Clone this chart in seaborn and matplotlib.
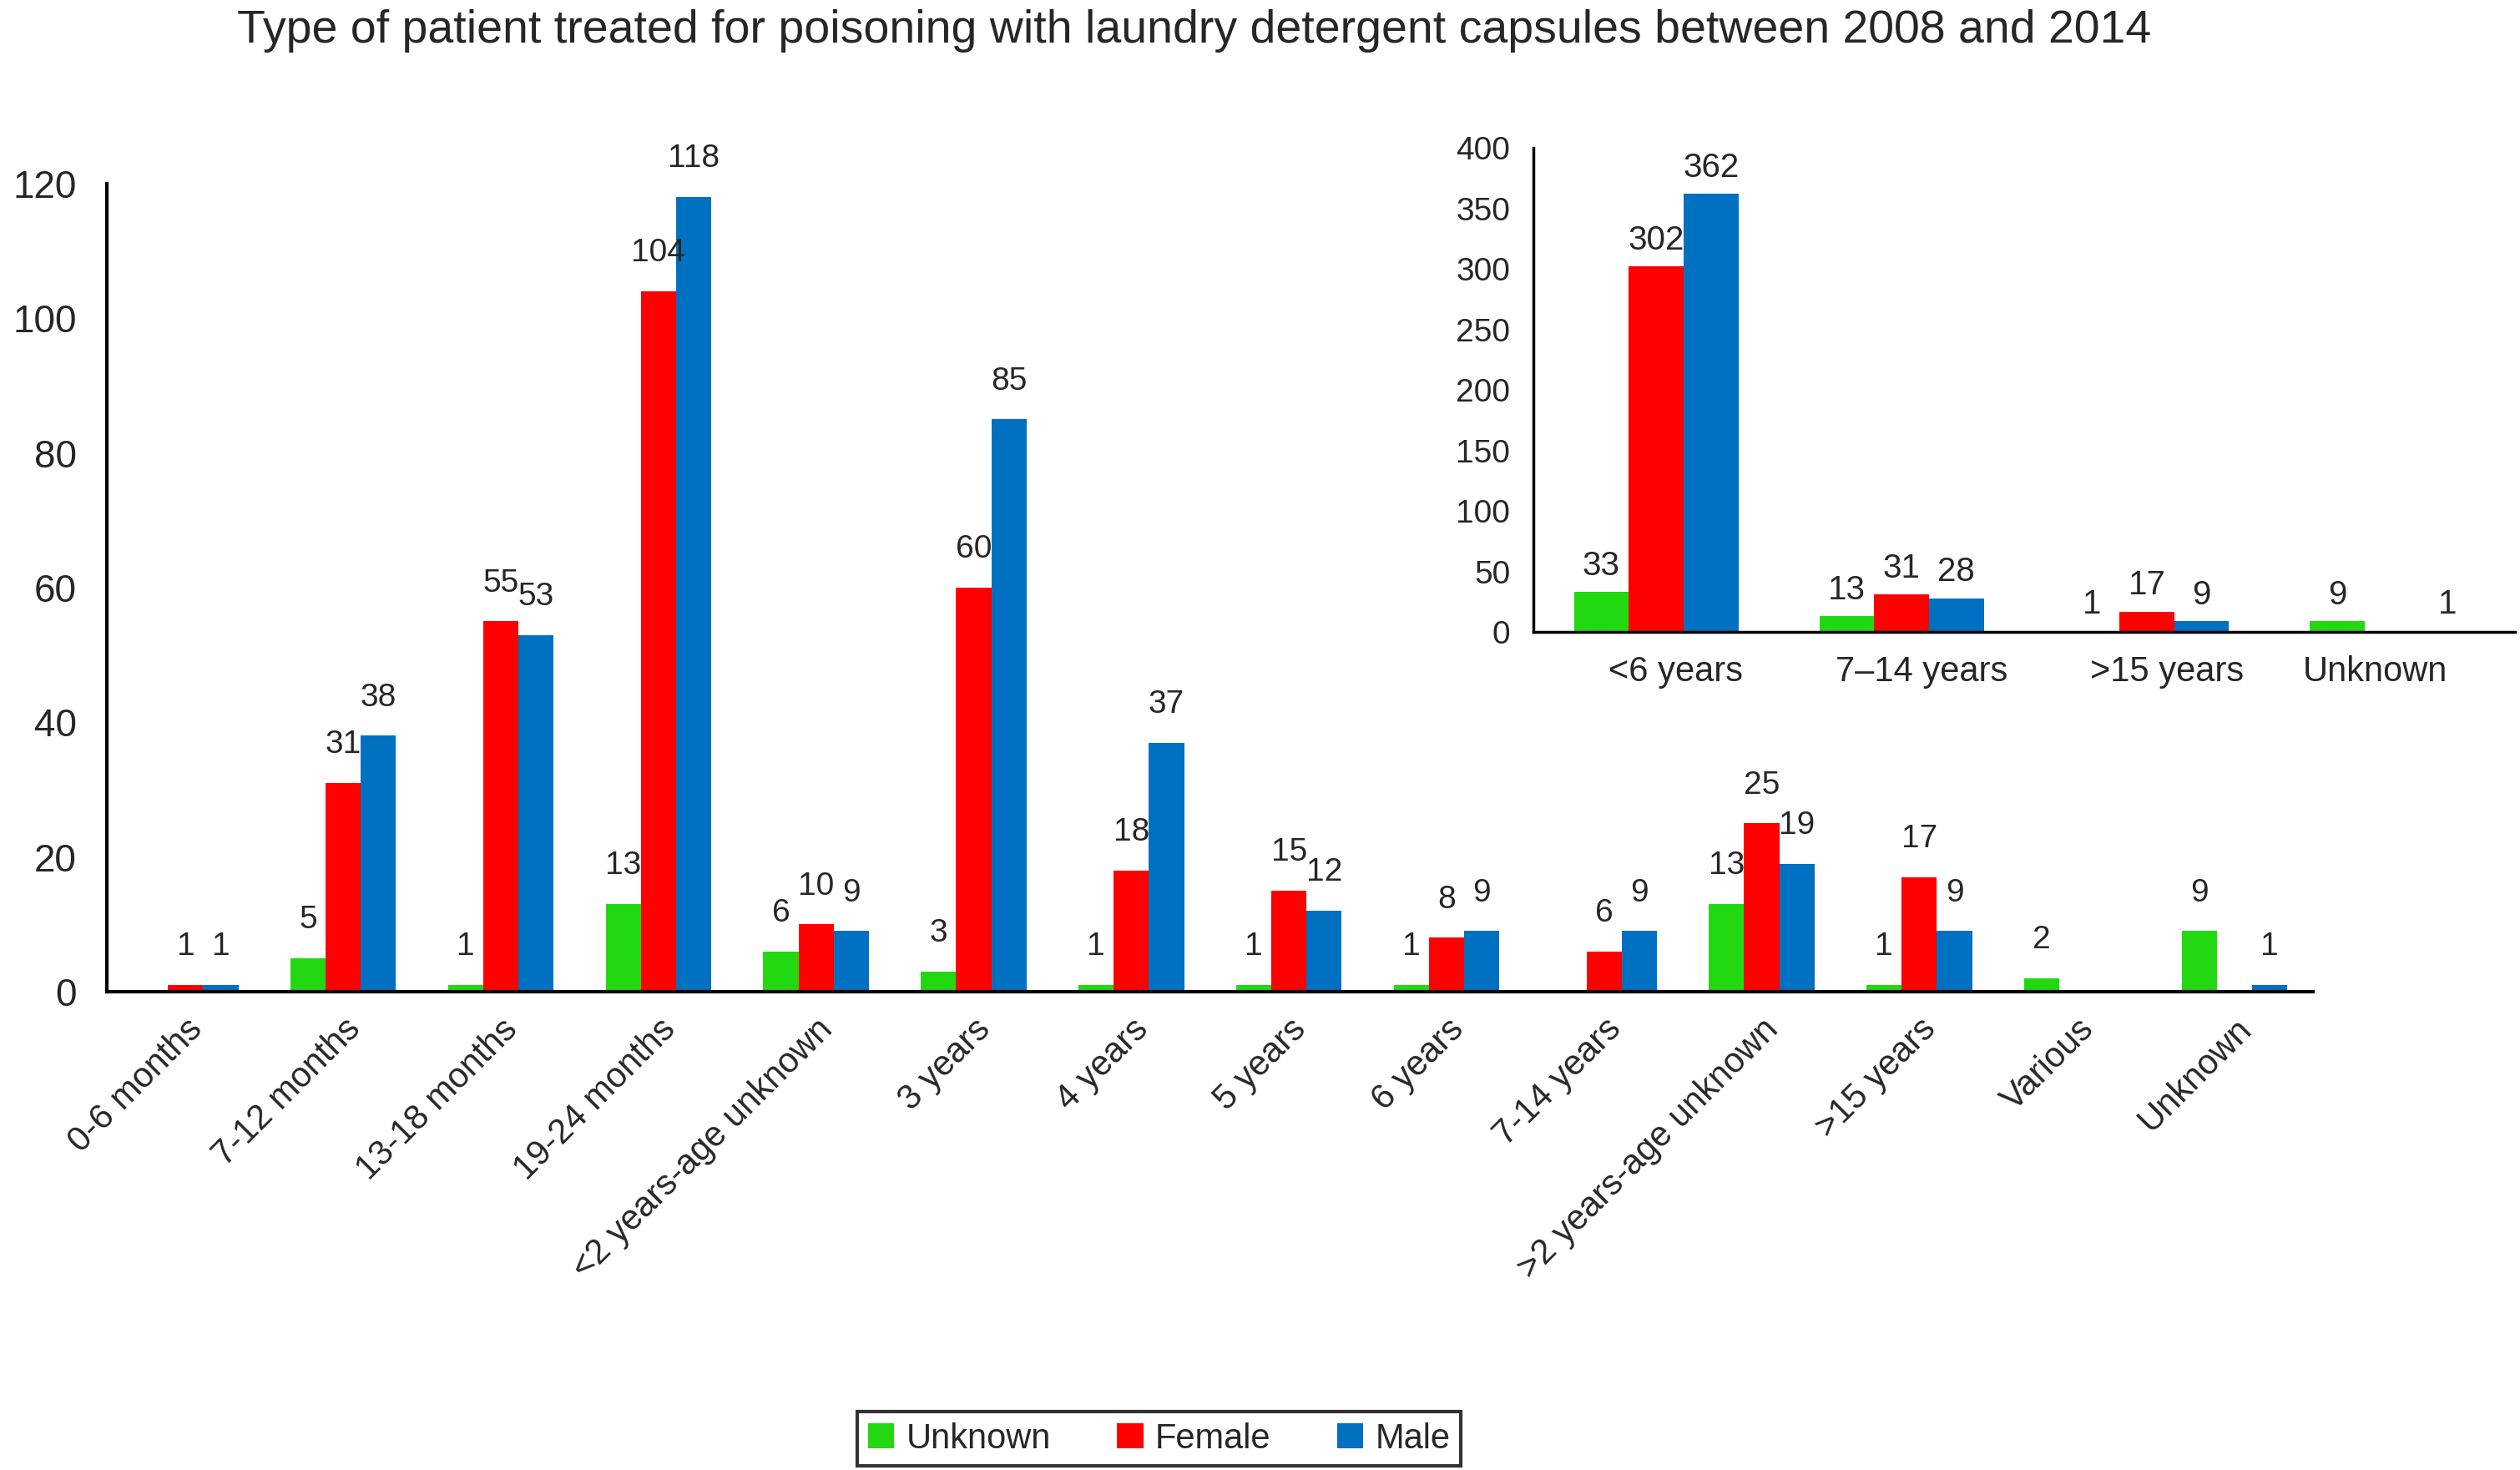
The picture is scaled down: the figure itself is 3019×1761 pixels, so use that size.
import pandas as pd
import matplotlib
matplotlib.use("Agg")
import matplotlib.pyplot as plt
import matplotlib.transforms as mtransforms
import seaborn as sns

sns.set_style("white")
plt.rcParams["font.family"] = ["Liberation Sans", "DejaVu Sans"]

# main chart data
ages = ["0-6 months", "7-12 months", "13-18 months", "19-24 months",
        "<2 years-age unknown", "3 years", "4 years", "5 years", "6 years",
        "7-14 years", ">2 years-age unknown", ">15 years", "Various", "Unknown"]
unknown = [0, 5, 1, 13, 6, 3, 1, 1, 1, 0, 13, 1, 2, 9]
female = [1, 31, 55, 104, 10, 60, 18, 15, 8, 6, 25, 17, 0, 0]
male = [1, 38, 53, 118, 9, 85, 37, 12, 9, 9, 19, 9, 0, 1]

# inset data
groups = ["<6 years", "7\u201314 years", ">15 years", "Unknown"]
unknown_g = [33, 13, 1, 9]
female_g = [302, 31, 17, 0]
male_g = [362, 28, 9, 1]

sexes = ["Unknown", "Female", "Male"]
colors = ["#22D911", "#FF0000", "#0070C0"]


def to_long(cats, u, f, m):
    rows = []
    for s, vals in zip(sexes, [u, f, m]):
        for c, v in zip(cats, vals):
            rows.append({"cat": c, "sex": s, "count": v})
    return pd.DataFrame(rows)


df_main = to_long(ages, unknown, female, male)
df_ins = to_long(groups, unknown_g, female_g, male_g)

fig = plt.figure(figsize=(30.19, 17.61), dpi=100)
ax = fig.add_axes([0.0424, 0.3254, 0.8756, 0.5496])

sns.barplot(data=df_main, x="cat", y="count", hue="sex", order=ages, hue_order=sexes,
            palette=colors, saturation=1, width=0.67, errorbar=None, ax=ax,
            linewidth=0, edgecolor="none")

for cont in ax.containers:
    labs = [f"{v:g}" if v > 0 else "" for v in cont.datavalues]
    ax.bar_label(cont, labels=labs, padding=20, fontsize=28)

ax.set_xlim(-0.5, len(ages) - 0.5)
ax.set_ylim(0, 120)
ax.set_yticks(range(0, 121, 20))
ax.set_xlabel("")
ax.set_ylabel("")
ax.set_xticks(range(len(ages)))
ax.set_xticklabels(ages, rotation=45, ha="right", rotation_mode="anchor", fontsize=30)
ax.set_xticks([i - 0.5 for i in range(len(ages) + 1)], minor=True)
ax.tick_params(axis="x", which="major", length=0, pad=18)
ax.tick_params(axis="x", which="minor", length=16, width=3, direction="out", color="black")
ax.tick_params(axis="y", length=16, width=3, direction="out", labelsize=33, pad=10, color="black")
for side in ["top", "right"]:
    ax.spines[side].set_visible(False)
for side in ["left", "bottom"]:
    ax.spines[side].set_linewidth(3)
    ax.spines[side].set_color("black")

handles, labels = ax.get_legend_handles_labels()
ax.get_legend().remove()

# inset
axi = fig.add_axes([0.6085, 0.570, 0.3895, 0.3295])
sns.barplot(data=df_ins, x="cat", y="count", hue="sex", order=groups, hue_order=sexes,
            palette=colors, saturation=1, width=0.67, errorbar=None, ax=axi, legend=False,
            linewidth=0, edgecolor="none")
for cont in axi.containers:
    labs = [f"{v:g}" if v > 0 else "" for v in cont.datavalues]
    axi.bar_label(cont, labels=labs, padding=9, fontsize=29)

axi.set_xlim(-0.5, len(groups) - 0.5)
axi.set_ylim(0, 400)
axi.set_yticks(range(0, 401, 50))
axi.set_xlabel("")
axi.set_ylabel("")
axi.set_xticks(range(len(groups)))
axi.set_xticklabels([])
# category names sit a little off centre in the original
ishifts = [17, 17, 17, -15]
for i, (g, dx) in enumerate(zip(groups, ishifts)):
    tr = axi.get_xaxis_transform() + mtransforms.ScaledTranslation(dx / 72, -20 / 72, fig.dpi_scale_trans)
    axi.text(i, 0, g, transform=tr, ha="center", va="top", fontsize=30)
axi.set_xticks([i - 0.5 for i in range(len(groups) + 1)], minor=True)
axi.tick_params(axis="x", which="major", length=0)
axi.tick_params(axis="x", which="minor", length=14, width=2.5, direction="out", color="black")
axi.tick_params(axis="y", length=12, width=2.5, direction="out", labelsize=28, pad=8, color="black")
for side in ["top", "right"]:
    axi.spines[side].set_visible(False)
for side in ["left", "bottom"]:
    axi.spines[side].set_linewidth(2.5)
    axi.spines[side].set_color("black")

fig.text(0.474, 0.979, "Type of patient treated for poisoning with laundry detergent capsules between 2008 and 2014",
         ha="center", va="center", fontsize=40)

leg = fig.legend(handles, labels, loc="lower center", bbox_to_anchor=(0.46, -0.009), ncol=3,
                 fontsize=30, frameon=True, fancybox=False, edgecolor="black",
                 handlelength=0.75, handleheight=0.75, handletextpad=0.35, columnspacing=1.9,
                 borderpad=0.3, borderaxespad=0.5)
leg.get_frame().set_linewidth(3)

fig.savefig("out.png", dpi=100)
